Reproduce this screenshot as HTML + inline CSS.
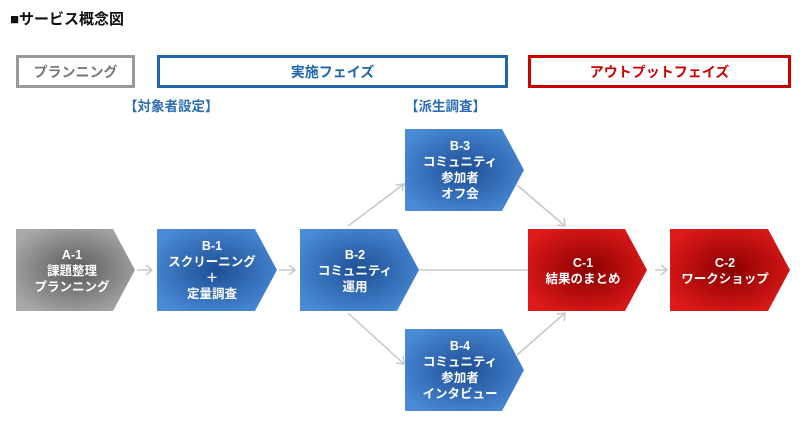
<!DOCTYPE html>
<html><head><meta charset="utf-8"><style>
body{margin:0;width:805px;height:428px;background:#fff;position:relative;overflow:hidden;font-family:"Liberation Sans","Noto Sans CJK JP",sans-serif;font-weight:bold}
.t{position:absolute;left:10px;top:8px;font-size:15px;color:#111}
.ph{position:absolute;box-sizing:border-box;text-align:center;font-size:14px;line-height:28px;height:33px;top:55px}
.lb{position:absolute;top:95px;font-size:13.5px;color:#2a6cb3}
svg text{font-family:"Liberation Sans","Noto Sans CJK JP",sans-serif;font-weight:bold;fill:#fff;font-size:12.5px;text-anchor:middle}
</style></head><body>
<div class="t">■サービス概念図</div>
<div class="ph" style="left:16px;width:119px;border:3px solid #999;color:#777">プランニング</div>
<div class="ph" style="left:157px;width:351px;border:3px solid #1f66ad;color:#1f66ad">実施フェイズ</div>
<div class="ph" style="left:528px;width:263px;border:3px solid #c00;color:#c00">アウトプットフェイズ</div>
<div class="lb" style="left:124px">【対象者設定】</div>
<div class="lb" style="left:405px">【派生調査】</div>
<svg width="805" height="428" style="position:absolute;left:0;top:0">
<defs>
<radialGradient id="g" cx="50%" cy="50%" r="60%"><stop offset="0" stop-color="#5a5a5a"/><stop offset="1" stop-color="#a8a8a8"/></radialGradient>
<radialGradient id="b" cx="50%" cy="50%" r="60%"><stop offset="0" stop-color="#1d4f95"/><stop offset="1" stop-color="#4a8ad6"/></radialGradient>
<radialGradient id="r" cx="50%" cy="50%" r="60%"><stop offset="0" stop-color="#8a0000"/><stop offset="1" stop-color="#e01a1a"/></radialGradient>
</defs>
<g stroke="#c8c8c8" stroke-width="1.5" fill="none">
<line x1="137" y1="270" x2="152" y2="270"/><polyline points="146,265 152,270 146,275"/>
<line x1="279" y1="270" x2="295" y2="270"/><polyline points="289,265 295,270 289,275"/>
<line x1="419" y1="270" x2="528" y2="270"/>
<line x1="655" y1="270" x2="667" y2="270"/><polyline points="661,265 667,270 661,275"/>
<line x1="348" y1="226" x2="404" y2="184"/><polyline points="396,185 404,184 402,191"/>
<line x1="348" y1="313" x2="404" y2="364"/><polyline points="396,363 404,364 403,356"/>
<line x1="517" y1="185" x2="565" y2="226"/><polyline points="557,225 565,226 564,218"/>
<line x1="517" y1="355" x2="565" y2="313"/><polyline points="557,314 565,313 564,321"/>
</g>
<polygon points="16,229 113,229 135,270 113,311 16,311" fill="url(#g)"/>
<polygon points="157,229 255,229 277,270 255,311 157,311" fill="url(#b)"/>
<polygon points="300,229 397,229 419,270 397,311 300,311" fill="url(#b)"/>
<polygon points="405,129 502,129 524,170 502,211 405,211" fill="url(#b)"/>
<polygon points="405,329 502,329 524,370 502,411 405,411" fill="url(#b)"/>
<polygon points="528,229 625,229 647,270 625,311 528,311" fill="url(#r)"/>
<polygon points="670,229 768,229 790,270 768,311 670,311" fill="url(#r)"/>
<text x="72" y="259">A-1</text><text x="72" y="275">課題整理</text><text x="72" y="291">プランニング</text>
<text x="212" y="250">B-1</text><text x="212" y="266">スクリーニング</text><text x="212" y="282">＋</text><text x="212" y="298">定量調査</text>
<text x="355" y="259">B-2</text><text x="355" y="275">コミュニティ</text><text x="355" y="291">運用</text>
<text x="460" y="150">B-3</text><text x="460" y="166">コミュニティ</text><text x="460" y="182">参加者</text><text x="460" y="198">オフ会</text>
<text x="460" y="350">B-4</text><text x="460" y="366">コミュニティ</text><text x="460" y="382">参加者</text><text x="460" y="398">インタビュー</text>
<text x="583" y="267">C-1</text><text x="583" y="283">結果のまとめ</text>
<text x="725" y="267">C-2</text><text x="725" y="283">ワークショップ</text>
</svg>
</body></html>
